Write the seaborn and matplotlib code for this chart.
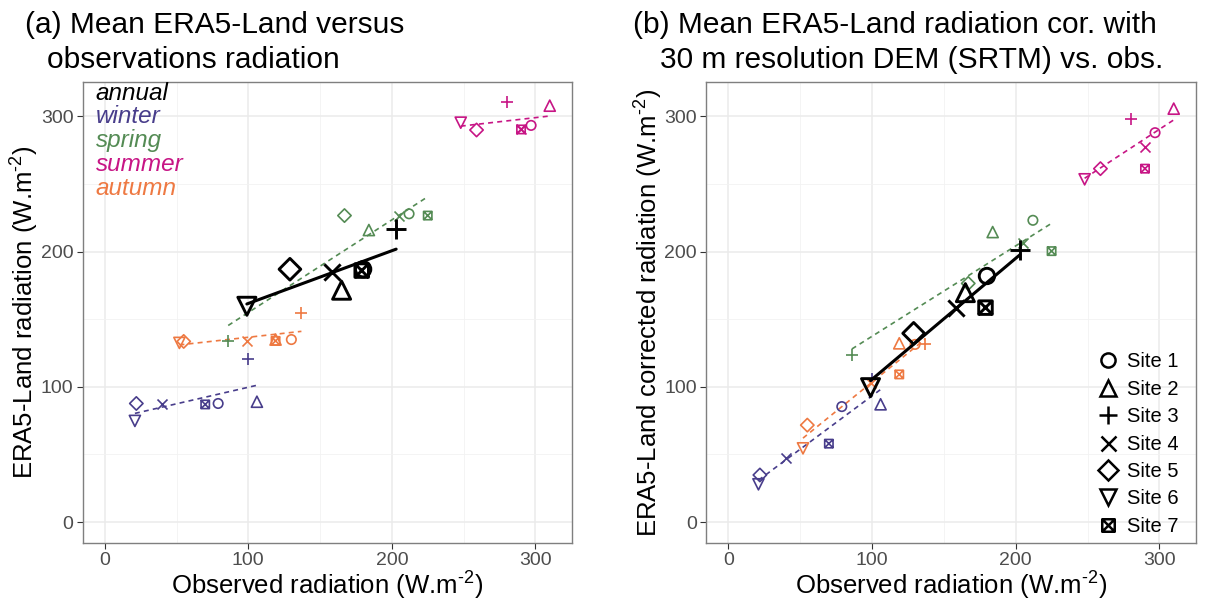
import numpy as np
import matplotlib
matplotlib.use("Agg")
import matplotlib.pyplot as plt
from matplotlib.path import Path
from matplotlib.lines import Line2D
import seaborn as sns

sns.set_style("white")
plt.rcParams["font.family"] = ["Liberation Sans", "DejaVu Sans"]
plt.rcParams["mathtext.fontset"] = "custom"
plt.rcParams["mathtext.rm"] = "Liberation Sans"
plt.rcParams["mathtext.it"] = "Liberation Sans:italic"
plt.rcParams["text.color"] = "black"
plt.rcParams["axes.labelcolor"] = "black"

seasons = ["annual", "winter", "spring", "summer", "autumn"]
season_colors = ["#000000", "#483D8B", "#548B54", "#C71585", "#EE7942"]
sites = ["Site 1", "Site 2", "Site 3", "Site 4", "Site 5", "Site 6", "Site 7"]

# observed radiation (W.m-2), sites 1..7
obs_annual = [180, 165, 203, 158.5, 129, 99, 179]
obs_winter = [79, 106, 100, 40, 22, 21, 70]
obs_spring = [212, 184, 86, 205, 167, np.nan, 225]
obs_summer = [297, 310, 280, 290, 259, 248, 290]
obs_autumn = [130, 119, 137, 99, 55, 52, 119]

# ERA5-Land radiation
era_annual = [187, 171.5, 217, 185, 187, 159.6, 186]
era_winter = [87.7, 89, 120.6, 87, 87.7, 74.8, 87]
era_spring = [228, 216, 134, 226.7, 226.7, np.nan, 226.7]
era_summer = [293.4, 308, 310.5, 291, 290, 295.4, 290.4]
era_autumn = [135, 135, 154.4, 133.6, 133.6, 132.5, 134]

# ERA5-Land corrected with SRTM DEM
cor_annual = [182, 169.7, 201, 158.6, 139.6, 99.4, 158.6]
cor_winter = [85.4, 87.1, 105.5, 47.6, 34.8, 27.9, 58]
cor_spring = [223.2, 214.5, 123.3, 206.7, 176.5, np.nan, 200.4]
cor_summer = [288, 305.8, 297.9, 277.7, 261.4, 253.5, 261.4]
cor_autumn = [131.4, 132.2, 131.4, 103.1, 71.7, 54.5, 109.2]

obs = [obs_annual, obs_winter, obs_spring, obs_summer, obs_autumn]
era = [era_annual, era_winter, era_spring, era_summer, era_autumn]
cor = [cor_annual, cor_winter, cor_spring, cor_summer, cor_autumn]

# square with cross (ggplot shape 7)
sq_cross = Path(
    [(-1, -1), (1, -1), (1, 1), (-1, 1), (-1, -1), (-1, -1), (1, 1), (-1, 1), (1, -1)],
    [Path.MOVETO, Path.LINETO, Path.LINETO, Path.LINETO, Path.CLOSEPOLY,
     Path.MOVETO, Path.LINETO, Path.MOVETO, Path.LINETO],
)
site_markers = ["o", "^", "+", "x", "D", "v", sq_cross]
# relative sizes so shapes look like ggplot's
site_scale = [0.85, 1.0, 1.1, 0.9, 0.85, 1.0, 0.75]
unfilled = [True, True, False, False, True, True, True]

unit = "(W.m$^{\\mathregular{\u2010 2}}$)"
xlab = "Observed radiation " + unit


def draw_panel(ax, xs_all, ys_all):
    for k in range(len(seasons)):
        col = season_colors[k]
        big = k == 0
        x = np.array(xs_all[k], dtype=float)
        y = np.array(ys_all[k], dtype=float)
        ok = ~np.isnan(x)
        sns.regplot(
            x=x[ok], y=y[ok], ax=ax, scatter=False, ci=None, color=col,
            line_kws=dict(ls="-" if big else (0, (3, 2.5)), lw=2.2 if big else 1.2,
                          zorder=6 if big else 3),
        )
        ms = 13 if big else 8.0
        lw = 2.1 if big else 1.2
        for i in range(len(sites)):
            if not ok[i]:
                continue
            s = (ms * site_scale[i]) ** 2
            if unfilled[i]:
                ax.scatter(x[i], y[i], s=s, marker=site_markers[i], facecolors="none",
                           edgecolors=col, linewidths=lw, zorder=7 if big else 4)
            else:
                ax.scatter(x[i], y[i], s=s, marker=site_markers[i], color=col,
                           linewidths=lw, zorder=7 if big else 4)

    ax.set_xlim(-15.5, 325.5)
    ax.set_ylim(-15.5, 325.5)
    ax.set_xticks([0, 100, 200, 300])
    ax.set_yticks([0, 100, 200, 300])
    ax.set_xticks([50, 150, 250], minor=True)
    ax.set_yticks([50, 150, 250], minor=True)
    ax.grid(True, which="major", color="#EBEBEB", lw=1.1, zorder=0)
    ax.grid(True, which="minor", color="#F2F2F2", lw=0.6, zorder=0)
    ax.set_axisbelow(True)
    ax.tick_params(which="major", length=4, width=0.8, color="#333333",
                   labelsize=14, labelcolor="#4D4D4D", pad=2.5, direction="out",
                   bottom=True, left=True)
    ax.tick_params(which="minor", length=0)
    for sp in ax.spines.values():
        sp.set_color("#7F7F7F")
        sp.set_linewidth(1.0)
    ax.set_xlabel(xlab, fontsize=18.5)
    ax.xaxis.set_label_coords(0.5, -0.058)
    ax.yaxis.label.set_size(18.5)


fig = plt.figure(figsize=(12.05, 6.0), dpi=100)
axA = fig.add_axes([82.5 / 1205, 57 / 600, 489.5 / 1205, 461 / 600])
axB = fig.add_axes([706 / 1205, 57 / 600, 490 / 1205, 461 / 600])

draw_panel(axA, obs, era)
draw_panel(axB, obs, cor)

axA.set_ylabel("ERA5-Land radiation " + unit, fontsize=18.5)
axA.yaxis.set_label_coords(-0.085, 0.5)
axB.set_ylabel("ERA5-Land corrected radiation " + unit, fontsize=18.5)
axB.yaxis.set_label_coords(-0.084, 0.5)

# season annotations in panel (a)
for k, name in enumerate(seasons):
    axA.text(0.027, 0.976 - k * 0.0515, name, transform=axA.transAxes, ha="left",
             va="center", fontsize=17.5, style="italic", color=season_colors[k])

# site legend in panel (b)
handles = []
for i, lab in enumerate(sites):
    handles.append(Line2D([], [], ls="none", marker=site_markers[i], color="black",
                          markerfacecolor="none", markeredgewidth=1.8,
                          markersize=12 * site_scale[i], label=lab))
axB.legend(handles=handles, loc="lower right", bbox_to_anchor=(0.978, 0.0),
           frameon=False, fontsize=14.5, handlelength=0.8, handletextpad=0.5,
           labelspacing=0.42, borderaxespad=0.25, borderpad=0.1)

# titles
fig.text(25 / 1205, 1 - 25 / 600, "(a) Mean ERA5-Land versus", fontsize=21.5,
         ha="left", va="center")
fig.text(47 / 1205, 1 - 60 / 600, "observations radiation", fontsize=21.5,
         ha="left", va="center")
fig.text(633 / 1205, 1 - 25 / 600, "(b) Mean ERA5-Land radiation cor. with", fontsize=21.5,
         ha="left", va="center")
fig.text(660 / 1205, 1 - 60 / 600, "30 m resolution DEM (SRTM) vs. obs.", fontsize=21.5,
         ha="left", va="center")

fig.savefig("out.png", dpi=100)
